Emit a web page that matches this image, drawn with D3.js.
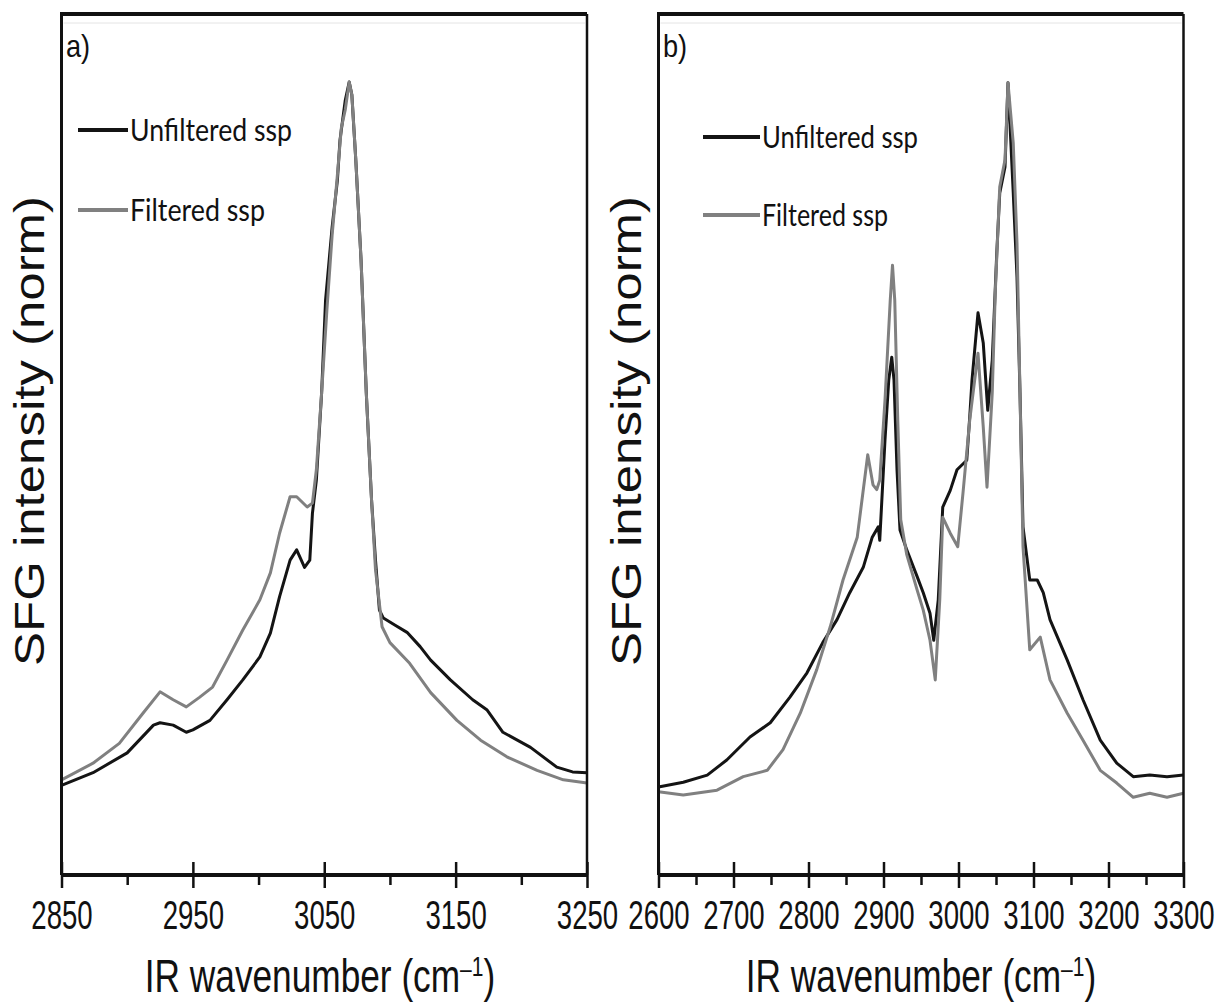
<!DOCTYPE html>
<html>
<head>
<meta charset="utf-8">
<script src="https://cdn.jsdelivr.net/npm/d3@7"></script>
<style>
  html, body { margin: 0; padding: 0; background: #fff; }
  svg { display: block; }
</style>
</head>
<body>
<svg id="chart" width="1220" height="1003"></svg>
<script>
// ---------------- DATA ----------------
// Panel a) : wavenumber (cm-1) and normalized SFG intensity
const aUnfilteredWn = [2850,2874,2900,2920,2925,2935,2945,2950,2963,2976,2988,3001,3009,3016,3024,3029,3035,3039,3041,3044,3048,3051,3056,3060,3062,3066,3069,3071,3074,3078,3082,3086,3089,3092,3095,3104,3113,3123,3131,3146,3163,3174,3186,3207,3227,3239,3250];
const aUnfiltered   = [0.113,0.129,0.154,0.189,0.192,0.189,0.180,0.183,0.195,0.221,0.246,0.275,0.305,0.351,0.397,0.410,0.388,0.397,0.456,0.498,0.608,0.725,0.817,0.876,0.927,0.977,1.000,0.984,0.902,0.776,0.608,0.473,0.397,0.334,0.324,0.315,0.306,0.288,0.271,0.246,0.221,0.208,0.180,0.161,0.136,0.130,0.129];
const aFilteredWn   = [2850,2874,2894,2912,2925,2935,2945,2955,2965,2976,2988,3001,3009,3016,3024,3029,3037,3041,3044,3048,3052,3056,3060,3063,3066,3069,3071,3074,3078,3082,3086,3089,3094,3100,3115,3131,3151,3169,3189,3212,3232,3250];
const aFiltered     = [0.120,0.141,0.166,0.204,0.231,0.221,0.212,0.224,0.237,0.271,0.309,0.347,0.381,0.431,0.477,0.477,0.464,0.469,0.511,0.608,0.712,0.807,0.883,0.942,0.965,1.000,0.984,0.902,0.776,0.608,0.473,0.385,0.313,0.293,0.267,0.230,0.195,0.170,0.149,0.132,0.120,0.116];

// Panel b)
const bUnfilteredWn = [2600,2633,2665,2691,2722,2749,2775,2798,2819,2838,2855,2873,2885,2893,2895,2902,2907,2911,2914,2918,2922,2931,2945,2953,2962,2967,2973,2979,2989,2998,3011,3015,3018,3026,3033,3039,3045,3051,3055,3062,3066,3073,3078,3082,3086,3095,3105,3113,3122,3145,3166,3189,3211,3233,3255,3278,3300];
const bUnfiltered   = [0.111,0.117,0.126,0.145,0.174,0.192,0.224,0.255,0.293,0.322,0.356,0.388,0.426,0.439,0.422,0.549,0.624,0.653,0.624,0.511,0.435,0.410,0.376,0.356,0.330,0.296,0.347,0.464,0.485,0.511,0.523,0.578,0.624,0.709,0.671,0.586,0.649,0.784,0.860,0.893,0.999,0.860,0.754,0.608,0.439,0.372,0.372,0.356,0.322,0.271,0.221,0.170,0.141,0.124,0.126,0.124,0.126];
const bFilteredWn   = [2600,2633,2678,2713,2745,2766,2789,2811,2829,2846,2865,2879,2886,2891,2895,2902,2909,2912,2915,2919,2923,2931,2945,2953,2962,2969,2975,2979,2989,2999,3006,3015,3026,3033,3038,3045,3049,3055,3062,3066,3073,3078,3082,3086,3095,3109,3122,3145,3166,3189,3211,3233,3255,3278,3300];
const bFiltered     = [0.105,0.101,0.107,0.124,0.132,0.158,0.204,0.259,0.313,0.372,0.426,0.530,0.492,0.486,0.498,0.599,0.725,0.769,0.725,0.574,0.448,0.404,0.359,0.334,0.296,0.246,0.347,0.451,0.431,0.414,0.482,0.574,0.658,0.565,0.489,0.608,0.734,0.868,0.902,0.999,0.923,0.797,0.608,0.414,0.284,0.300,0.246,0.204,0.170,0.132,0.116,0.098,0.103,0.098,0.103];

// Axis ticks
const aMajorTicks = [2850, 2950, 3050, 3150, 3250];
const aMinorTicks = [2900, 3000, 3100, 3200];
const bMajorTicks = [2600, 2700, 2800, 2900, 3000, 3100, 3200, 3300];
const bMinorTicks = [2650, 2750, 2850, 2950, 3050, 3150, 3250];

const seriesNames = ["Unfiltered ssp", "Filtered ssp"];
const seriesColors = ["#141414", "#808080"];
const panelLabels = ["a)", "b)"];
const xTitle = "IR wavenumber (cm";
const yTitle = "SFG intensity (norm)";

// ---------------- LAYOUT ----------------
const svg = d3.select("#chart");
const plotTop = 14, plotBottom = 875;
const narrowFont = "'Liberation Sans Narrow','Arial Narrow','Liberation Sans',Arial,sans-serif";

const panels = [
  { left: 61.5, right: 587, domain: [2850, 3250], major: aMajorTicks, minor: aMinorTicks,
    series: [[aUnfilteredWn, aUnfiltered], [aFilteredWn, aFiltered]], label: panelLabels[0],
    yTitleX: 44, legend: { x1: 78, x2: 128, tx: 130, y: [130, 210], tw: [162, 135] },
    xTitleX: 320 },
  { left: 658.5, right: 1183.5, domain: [2600, 3300], major: bMajorTicks, minor: bMinorTicks,
    series: [[bUnfilteredWn, bUnfiltered], [bFilteredWn, bFiltered]], label: panelLabels[1],
    yTitleX: 641, legend: { x1: 703, x2: 760, tx: 762, y: [137, 215], tw: [156, 126] },
    xTitleX: 921 }
];

panels.forEach(p => {
  const x = d3.scaleLinear().domain(p.domain).range([p.left, p.right]);
  const y = d3.scaleLinear().domain([0, 1]).range([plotBottom, 82]);
  const g = svg.append("g");

  // faint inner plot-area line
  g.append("line").attr("x1", p.left + 2).attr("x2", p.right - 2)
    .attr("y1", plotTop + 9).attr("y2", plotTop + 9)
    .attr("stroke", "#e4e4e4").attr("stroke-width", 1);

  // lines
  const line = d3.line().x(d => x(d[0])).y(d => y(d[1]));
  p.series.forEach((s, i) => {
    const pts = s[0].map((w, k) => [w, s[1][k]]);
    g.append("path").datum(pts).attr("d", line)
      .attr("fill", "none").attr("stroke", seriesColors[i])
      .attr("stroke-width", 3).attr("stroke-linejoin", "round");
  });

  // frame: top, right, left
  g.append("line").attr("x1", p.left).attr("x2", p.right).attr("y1", plotTop).attr("y2", plotTop)
    .attr("stroke", "#111").attr("stroke-width", 4);
  g.append("line").attr("x1", p.right).attr("x2", p.right).attr("y1", plotTop).attr("y2", plotBottom)
    .attr("stroke", "#111").attr("stroke-width", 2.5);
  g.append("line").attr("x1", p.left).attr("x2", p.left).attr("y1", plotTop - 2).attr("y2", plotBottom)
    .attr("stroke", "#111").attr("stroke-width", 3);

  // minor ticks
  const minorAxis = d3.axisBottom(x).tickValues(p.minor).tickSize(10).tickFormat("");
  g.append("g").attr("transform", `translate(0,${plotBottom})`).call(minorAxis)
    .call(a => a.select(".domain").remove())
    .call(a => a.selectAll(".tick line").attr("stroke", "#111").attr("stroke-width", 2.5).attr("y1", -2));

  // major ticks + labels
  const majorAxis = d3.axisBottom(x).tickValues(p.major).tickSize(13).tickFormat(d3.format("d"));
  g.append("g").attr("transform", `translate(0,${plotBottom})`).call(majorAxis)
    .call(a => a.select(".domain").attr("stroke", "#111").attr("stroke-width", 4)
      .attr("d", `M${p.left},0H${p.right}`))
    .call(a => a.selectAll(".tick line").attr("stroke", "#111").attr("stroke-width", 2.5).attr("y1", -13))
    .call(a => a.selectAll(".tick text")
      .attr("y", 54).attr("dy", null)
      .attr("fill", "#111")
      .attr("transform", "scale(0.69,1)")
      .style("font-family", narrowFont)
      .style("font-size", "40px"));

  // x title (horizontally condensed)
  const xt = g.append("g").attr("transform", `translate(${p.xTitleX},992) scale(0.75,1)`)
    .append("text").attr("x", 0).attr("y", 0).attr("text-anchor", "middle")
    .attr("fill", "#111")
    .style("font-family", narrowFont)
    .style("font-size", "47px");
  xt.append("tspan").text(xTitle);
  xt.append("tspan").text("\u2013").attr("dy", -14).style("font-size", "28px");
  xt.append("tspan").text("1").attr("dy", -2).style("font-size", "28px");
  xt.append("tspan").text(")").attr("dy", 16);

  // y title
  svg.append("text")
    .attr("transform", `translate(${p.yTitleX},431) rotate(-90)`)
    .attr("text-anchor", "middle").attr("fill", "#111")
    .style("font-family", "'Liberation Sans',Arial,sans-serif")
    .style("font-size", "42px")
    .attr("textLength", 470).attr("lengthAdjust", "spacingAndGlyphs")
    .text(yTitle);

  // panel label
  g.append("g").attr("transform", `translate(${66 + (p.left - 61.5)},57) scale(0.85,1)`)
    .append("text").attr("fill", "#111")
    .style("font-family", narrowFont)
    .style("font-size", "32px").text(p.label);

  // legend
  seriesNames.forEach((name, i) => {
    g.append("line").attr("x1", p.legend.x1).attr("x2", p.legend.x2)
      .attr("y1", p.legend.y[i]).attr("y2", p.legend.y[i])
      .attr("stroke", seriesColors[i]).attr("stroke-width", 4);
    g.append("text").attr("x", p.legend.tx).attr("y", p.legend.y[i] + 11)
      .attr("fill", "#111")
      .style("font-family", "Lato,'Open Sans',sans-serif")
      .style("font-size", "30px")
      .attr("textLength", p.legend.tw[i]).attr("lengthAdjust", "spacingAndGlyphs")
      .text(name);
  });
});
</script>
</body>
</html>
